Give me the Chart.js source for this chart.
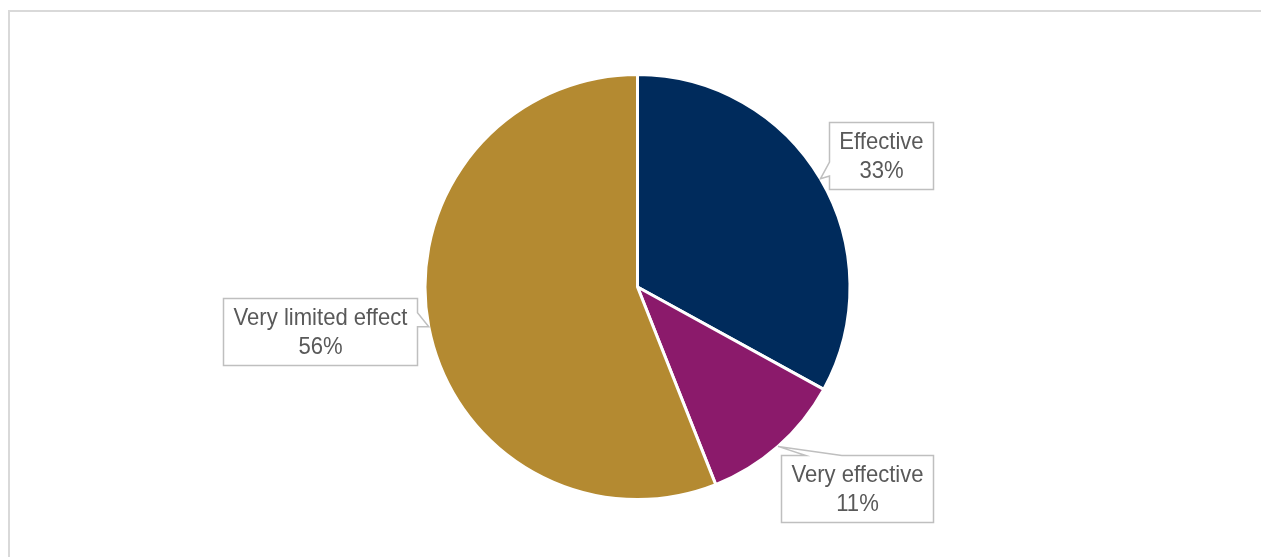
<!DOCTYPE html>
<html>
<head>
<meta charset="utf-8">
<script src="https://cdn.jsdelivr.net/npm/chart.js@4.4.1/dist/chart.umd.min.js"></script>
<style>
    html, body { margin: 0; padding: 0; background: #ffffff; }
    #wrap { position: relative; width: 1261px; height: 557px; }
</style>
</head>
<body>
<div id="wrap"><canvas id="pieChart" width="1261" height="557"></canvas></div>
<script>
// Chart data
const categories = ['Effective', 'Very effective', 'Very limited effect'];
const shares = [33, 11, 56];
const sliceColors = ['#002B5C', '#8B1A6B', '#B48A31'];

// Callout box centres, relative to the pie centre
const calloutOffsets = [[244, -131], [220, 202], [-317, 45]];

/**
 * Grey frame around the chart area
 */
const framePlugin = {
    id: 'frame',
    beforeDraw(chart) {
        const ctx = chart.ctx;
        ctx.save();
        ctx.strokeStyle = '#d9d9d9';
        ctx.lineWidth = 2;
        ctx.beginPath();
        ctx.moveTo(9, 557);
        ctx.lineTo(9, 11);
        ctx.lineTo(1261, 11);
        ctx.stroke();
        ctx.restore();
    }
};

/**
 * Excel-style callout labels with a pointer to each slice
 */
const calloutPlugin = {
    id: 'callouts',
    afterDraw(chart) {
        const ctx = chart.ctx;
        const arcs = chart.getDatasetMeta(0).data;
        const squeeze = 0.92; // narrow the text a little, like Arial Narrow

        ctx.save();
        ctx.font = '24px "Liberation Sans", Arial, sans-serif';
        ctx.textAlign = 'center';
        ctx.textBaseline = 'middle';

        arcs.forEach((arc, i) => {
            const cx = arc.x, cy = arc.y;
            const mid = (arc.startAngle + arc.endAngle) / 2;
            const tip = { x: cx + Math.cos(mid) * arc.outerRadius, y: cy + Math.sin(mid) * arc.outerRadius };

            const lines = [categories[i], shares[i] + '%'];
            const textW = Math.max(...lines.map(l => ctx.measureText(l).width)) * squeeze;
            const w = Math.round(textW + 20);
            const h = 67;
            const bx = cx + calloutOffsets[i][0];
            const by = cy + calloutOffsets[i][1];
            const L = bx - w / 2, R = bx + w / 2, T = by - h / 2, B = by + h / 2;

            // Build box outline with pointer wedge
            const half = 7;
            const pts = [];
            if (tip.y > T && tip.y < B) {
                const yc = Math.min(Math.max(tip.y - 7, T + h * 0.2 + half), B - h * 0.2 - half);
                if (tip.x < L) {
                    pts.push([L, T], [R, T], [R, B], [L, B], [L, yc + half], [tip.x, tip.y], [L, yc - half]);
                } else {
                    pts.push([L, T], [R, T], [R, yc - half], [tip.x, tip.y], [R, yc + half], [R, B], [L, B]);
                }
            } else {
                const xc = Math.min(Math.max(tip.x, L + w * 0.16 + 18), R - w * 0.2 - 18);
                if (tip.y < T) {
                    pts.push([L, T], [xc - 18, T], [tip.x, tip.y], [xc + 18, T], [R, T], [R, B], [L, B]);
                } else {
                    pts.push([L, T], [R, T], [R, B], [xc + 18, B], [tip.x, tip.y], [xc - 18, B], [L, B]);
                }
            }

            ctx.beginPath();
            pts.forEach((p, k) => k === 0 ? ctx.moveTo(p[0], p[1]) : ctx.lineTo(p[0], p[1]));
            ctx.closePath();
            ctx.fillStyle = '#ffffff';
            ctx.fill();
            ctx.strokeStyle = '#bfbfbf';
            ctx.lineWidth = 1.5;
            ctx.stroke();

            ctx.fillStyle = '#595959';
            lines.forEach((line, k) => {
                ctx.save();
                ctx.translate(bx, by + (k === 0 ? -14.5 : 14.5) + 1);
                ctx.scale(squeeze, 1);
                ctx.fillText(line, 0, 0);
                ctx.restore();
            });
        });
        ctx.restore();
    }
};

new Chart(document.getElementById('pieChart'), {
    type: 'pie',
    data: {
        labels: categories,
        datasets: [{
            data: shares,
            backgroundColor: sliceColors,
            borderColor: '#ffffff',
            borderWidth: 3
        }]
    },
    options: {
        responsive: false,
        animation: false,
        layout: {
            padding: { left: 423, right: 409, top: 73, bottom: 56 }
        },
        plugins: {
            legend: { display: false },
            tooltip: { enabled: false }
        }
    },
    plugins: [framePlugin, calloutPlugin]
});
</script>
</body>
</html>
